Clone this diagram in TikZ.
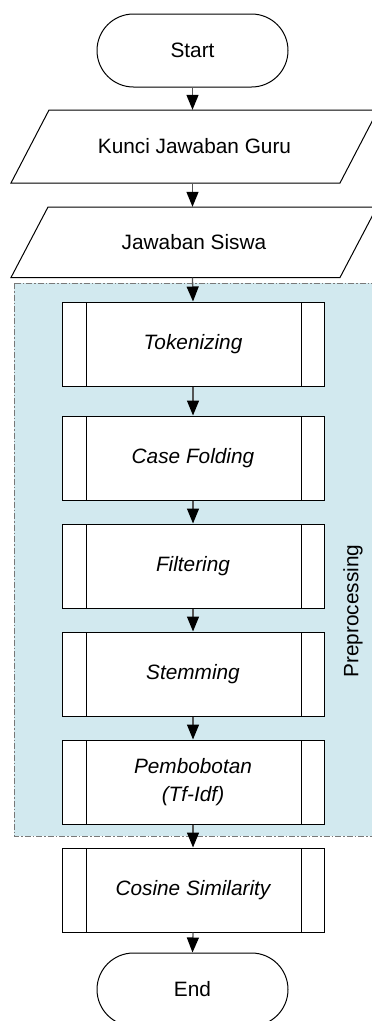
\documentclass[tikz,border=0pt]{standalone}
\usepackage{fontspec}
\setmainfont{Liberation Sans}
\usetikzlibrary{shapes.misc,arrows.meta}
\definecolor{prebg}{RGB}{210,233,239}
\definecolor{prebd}{RGB}{120,120,120}
\definecolor{linegray}{RGB}{85,85,85}
\begin{document}
\begin{tikzpicture}[x=1pt,y=-1pt,
  font=\fontsize{20.8}{28}\selectfont,
  term/.style={rounded rectangle, draw, fill=white, line width=1pt, minimum width=191pt, minimum height=73pt, inner sep=0pt},
  ioshape/.style={draw, fill=white, line width=1pt, line join=miter},
  io/.style={rectangle, minimum width=367pt, inner sep=0pt},
  proc/.style={rectangle, draw, fill=white, line width=1pt, minimum width=262pt, minimum height=84pt, inner sep=0pt, align=center,
    font=\fontsize{20.8}{28}\selectfont\itshape,
    path picture={\draw[line width=1pt]
      ([xshift=24pt]path picture bounding box.north west) -- ([xshift=24pt]path picture bounding box.south west)
      ([xshift=-23pt]path picture bounding box.north east) -- ([xshift=-23pt]path picture bounding box.south east);}},
  flow/.style={draw=linegray, line width=1.3pt, -{Triangle[length=15pt,width=12pt,color=black]}}
]
\useasboundingbox (0,0) rectangle (372,1021);
\clip (0,0) rectangle (372,1021);
% preprocessing region
\draw[prebd, fill=prebg, line width=1pt, dash pattern=on 6pt off 2pt on 1.5pt off 2pt] (14,283) rectangle (390,836);
\node (lbl) [rotate=90] at (353,611) {Preprocessing};
% input shapes
\draw[ioshape] (49,110) -- (378,110) -- (340,183) -- (11,183) -- cycle;
\draw[ioshape] (48,207) -- (377,207) -- (340,277.5) -- (11,277.5) -- cycle;
% nodes
\node (s) [term] at (192.5,50.5) {Start};
\node (k) [io, minimum height=73pt] at (194.5,146.5) {Kunci Jawaban Guru};
\node (j) [io, minimum height=70.5pt] at (194,242.25) {Jawaban Siswa};
\node (t) [proc] at (193,344) {Tokenizing};
\node (c) [proc] at (193,458) {Case Folding};
\node (f) [proc] at (193,566) {Filtering};
\node (st) [proc] at (193,674) {Stemming};
\node (p) [proc] at (193,782) {Pembobotan\\(Tf-Idf)};
\node (cs) [proc] at (193,890) {Cosine Similarity};
\node (e) [term] at (192.5,989.5) {End};
% connectors
\draw[flow] (s.south) -- (s.south |- k.north);
\draw[flow] (s.south |- k.south) -- (s.south |- j.north);
\draw[flow] (s.south |- j.south) -- (t.north);
\draw[flow] (t.south) -- (c.north);
\draw[flow] (c.south) -- (f.north);
\draw[flow] (f.south) -- (st.north);
\draw[flow] (st.south) -- (p.north);
\draw[flow] (p.south) -- (cs.north);
\draw[flow] (cs.south) -- (e.north);
\end{tikzpicture}
\end{document}
